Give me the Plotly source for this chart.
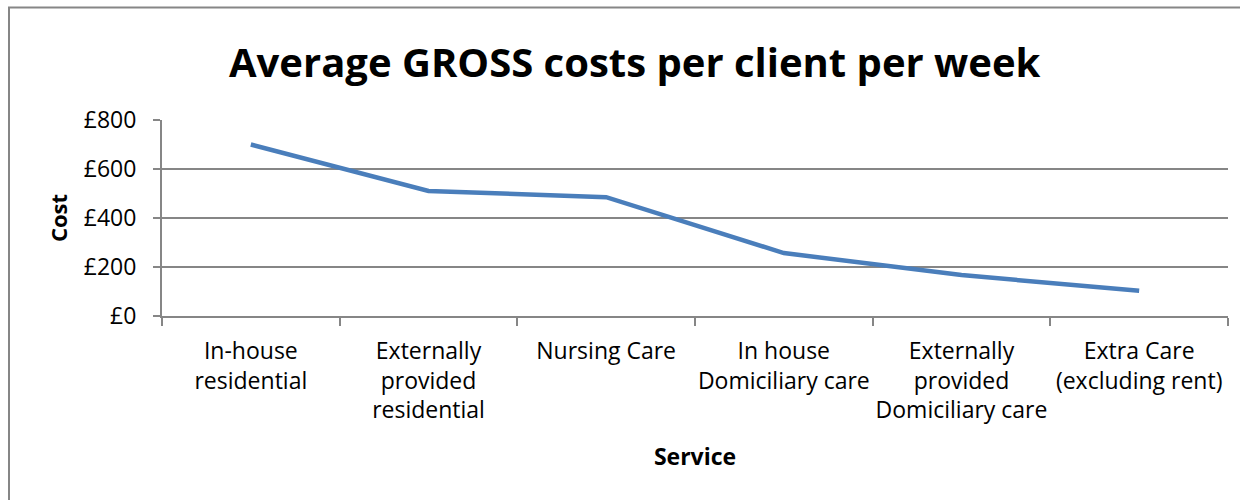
import plotly.graph_objects as go

# Services and their average weekly gross cost per client (£)
services = [
    "In-house<br>residential",
    "Externally<br>provided<br>residential",
    "Nursing Care",
    "In house<br>Domiciliary care",
    "Externally<br>provided<br>Domiciliary care",
    "Extra Care<br>(excluding rent)",
]
costs = [700, 510, 485, 257, 167, 103]
cost_ticks = [0, 200, 400, 600, 800]
cost_tick_labels = ["£0", "£200", "£400", "£600", "£800"]

FONT = "Open Sans"
GRID = "#868686"
LINE = "#4a7ebb"

W, H = 1240, 500
L, R, T, B = 162, 12, 120, 184
pw, ph = W - L - R, H - T - B

xs = list(range(len(services)))

fig = go.Figure()
fig.add_trace(go.Scatter(
    x=xs, y=costs, mode="lines",
    line=dict(color=LINE, width=4.5),
    hoverinfo="skip", showlegend=False,
))
# invisible copy so the overlay axis (inner tick halves) is drawn
fig.add_trace(go.Scatter(
    x=xs, y=costs, mode="lines", yaxis="y2",
    line=dict(color="rgba(0,0,0,0)", width=0),
    hoverinfo="skip", showlegend=False,
))

fig.update_layout(
    width=W, height=H,
    margin=dict(l=L, r=R, t=T, b=B, pad=0),
    paper_bgcolor="white", plot_bgcolor="white",
    font=dict(family=FONT, color="black", size=23),
    xaxis=dict(
        range=[-0.5, len(services) - 0.5],
        tickmode="array", tickvals=xs, ticktext=services,
        ticks="", showgrid=False, zeroline=False,
        showline=True, linecolor=GRID, linewidth=2,
        tickfont=dict(family=FONT, size=23),
        ticklabelstandoff=13,
        minor=dict(tickmode="array", tickvals=[i - 0.5 for i in range(len(services) + 1)],
                   ticks="outside", ticklen=8, tickcolor=GRID, tickwidth=2, showgrid=False),
        title=dict(text="<b>Service</b>", font=dict(family=FONT, size=23), standoff=24),
    ),
    yaxis=dict(
        range=[0, 800],
        tickmode="array", tickvals=cost_ticks, ticktext=cost_tick_labels,
        ticks="outside", ticklen=7, tickcolor=GRID, tickwidth=2,
        showgrid=True, gridcolor=GRID, gridwidth=1.5,
        zeroline=False, showline=True, linecolor=GRID, linewidth=2,
        tickfont=dict(family=FONT, size=23),
        ticklabelstandoff=12,
        title=dict(text="<b>Cost</b>", font=dict(family=FONT, size=22), standoff=10),
    ),
    # inner half of the cross-shaped value-axis ticks
    yaxis2=dict(
        overlaying="y", side="left", range=[0, 800],
        tickmode="array", tickvals=cost_ticks,
        ticks="inside", ticklen=7, tickcolor=GRID, tickwidth=2,
        showticklabels=False, showgrid=False, showline=False, zeroline=False,
    ),
)

# outer chart frame (top and left edges visible)
def px_x(px):
    return (px - L) / pw

def px_y(py):
    return (H - B - py) / ph

fig.add_shape(type="rect", xref="paper", yref="paper",
              x0=px_x(9), x1=px_x(W + 10), y0=px_y(H + 10), y1=px_y(7.5),
              line=dict(color=GRID, width=2), fillcolor="rgba(0,0,0,0)", layer="below")

fig.add_annotation(
    text="<b>Average GROSS costs per client per week</b>",
    xref="paper", yref="paper", x=px_x(635), y=px_y(61),
    xanchor="center", yanchor="middle", showarrow=False,
    font=dict(family=FONT, size=40, color="black"),
)

fig.write_html("out.html")
